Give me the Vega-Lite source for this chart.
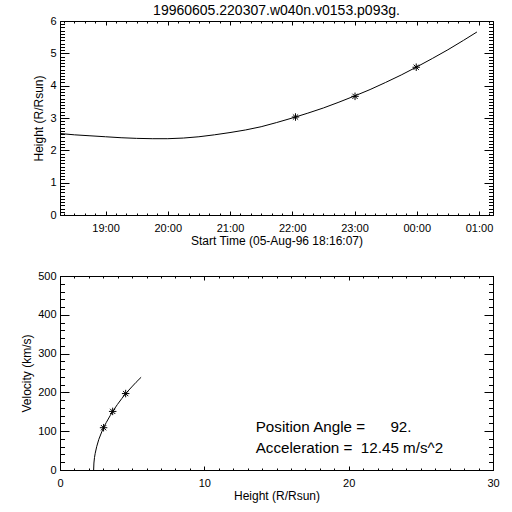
{
  "$schema": "https://vega.github.io/schema/vega-lite/v6.json",
  "background": "white",
  "padding": {"left": 20, "top": 4, "right": 5, "bottom": 5},
  "spacing": 24,
  "config": {
    "font": "Liberation Sans",
    "view": {"stroke": null},
    "axis": {
      "grid": false,
      "labelFontSize": 11,
      "titleFontSize": 12,
      "titleFontWeight": "normal",
      "labelColor": "black",
      "titleColor": "black",
      "domainColor": "black",
      "tickColor": "black",
      "labelFlush": false
    }
  },
  "vconcat": [
    {
      "width": 433,
      "height": 194,
      "title": {"text": "19960605.220307.w040n.v0153.p093g.", "fontSize": 14, "fontWeight": "normal", "color": "black", "offset": -3, "anchor": "middle"},
      "resolve": {"axis": {"x": "independent", "y": "independent"}},
      "data": {"values": [
        {"time": "1996-08-05T18:16:07Z", "height": 2.52},
        {"time": "1996-08-05T18:30:00Z", "height": 2.48},
        {"time": "1996-08-05T18:45:00Z", "height": 2.45},
        {"time": "1996-08-05T19:00:00Z", "height": 2.42},
        {"time": "1996-08-05T19:15:00Z", "height": 2.39},
        {"time": "1996-08-05T19:30:00Z", "height": 2.37},
        {"time": "1996-08-05T19:45:00Z", "height": 2.36},
        {"time": "1996-08-05T20:00:00Z", "height": 2.36},
        {"time": "1996-08-05T20:15:00Z", "height": 2.38},
        {"time": "1996-08-05T20:30:00Z", "height": 2.42},
        {"time": "1996-08-05T20:45:00Z", "height": 2.48},
        {"time": "1996-08-05T21:00:00Z", "height": 2.55},
        {"time": "1996-08-05T21:15:00Z", "height": 2.63},
        {"time": "1996-08-05T21:30:00Z", "height": 2.73},
        {"time": "1996-08-05T21:45:00Z", "height": 2.86},
        {"time": "1996-08-05T22:00:00Z", "height": 3.0},
        {"time": "1996-08-05T22:15:00Z", "height": 3.15},
        {"time": "1996-08-05T22:30:00Z", "height": 3.31},
        {"time": "1996-08-05T22:45:00Z", "height": 3.49},
        {"time": "1996-08-05T23:00:00Z", "height": 3.68},
        {"time": "1996-08-05T23:15:00Z", "height": 3.88},
        {"time": "1996-08-05T23:30:00Z", "height": 4.1},
        {"time": "1996-08-05T23:45:00Z", "height": 4.33},
        {"time": "1996-08-06T00:00:00Z", "height": 4.58},
        {"time": "1996-08-06T00:15:00Z", "height": 4.84},
        {"time": "1996-08-06T00:30:00Z", "height": 5.11},
        {"time": "1996-08-06T00:45:00Z", "height": 5.4},
        {"time": "1996-08-06T00:58:00Z", "height": 5.66}
      ]},
      "layer": [
        {
          "mark": {"type": "line", "color": "black", "strokeWidth": 1},
          "encoding": {
            "x": {"field": "time", "type": "temporal",
              "scale": {"type": "utc", "domain": [
                {"year": 1996, "month": 8, "date": 5, "hours": 18, "minutes": 16, "seconds": 7, "utc": true},
                {"year": 1996, "month": 8, "date": 6, "hours": 1, "minutes": 13, "seconds": 30, "utc": true}]},
              "axis": {"orient": "bottom", "format": "%H:%M", "values": [839271600000, 839275200000, 839278800000, 839282400000, 839286000000, 839289600000, 839293200000], "tickSize": -4, "labelPadding": 11, "title": "Start Time (05-Aug-96 18:16:07)", "titlePadding": 2}},
            "y": {"field": "height", "type": "quantitative", "scale": {"domain": [0, 6]},
              "axis": {"orient": "left", "values": [0, 1, 2, 3, 4, 5, 6], "tickSize": -9, "labelPadding": 13, "title": "Height (R/Rsun)", "titlePadding": 4}}
          }
        },
        {
          "mark": {"type": "line", "opacity": 0},
          "encoding": {
            "x": {"field": "time", "type": "temporal", "axis": {"orient": "bottom", "values": [839269200000, 839269800000, 839270400000, 839271000000, 839271600000, 839272200000, 839272800000, 839273400000, 839274000000, 839274600000, 839275200000, 839275800000, 839276400000, 839277000000, 839277600000, 839278200000, 839278800000, 839279400000, 839280000000, 839280600000, 839281200000, 839281800000, 839282400000, 839283000000, 839283600000, 839284200000, 839284800000, 839285400000, 839286000000, 839286600000, 839287200000, 839287800000, 839288400000, 839289000000, 839289600000, 839290200000, 839290800000, 839291400000, 839292000000, 839292600000, 839293200000, 839293800000], "tickSize": -2, "labels": false, "domain": false, "title": null}},
            "y": {"field": "height", "type": "quantitative", "axis": {"orient": "left", "tickCount": 60, "tickSize": -4.5, "labels": false, "domain": false, "title": null}}
          }
        },
        {
          "mark": {"type": "line", "opacity": 0},
          "encoding": {
            "x": {"field": "time", "type": "temporal", "axis": {"orient": "top", "values": [839269200000, 839269800000, 839270400000, 839271000000, 839271600000, 839272200000, 839272800000, 839273400000, 839274000000, 839274600000, 839275200000, 839275800000, 839276400000, 839277000000, 839277600000, 839278200000, 839278800000, 839279400000, 839280000000, 839280600000, 839281200000, 839281800000, 839282400000, 839283000000, 839283600000, 839284200000, 839284800000, 839285400000, 839286000000, 839286600000, 839287200000, 839287800000, 839288400000, 839289000000, 839289600000, 839290200000, 839290800000, 839291400000, 839292000000, 839292600000, 839293200000, 839293800000], "tickSize": -2, "labels": false, "domain": false, "title": null}},
            "y": {"field": "height", "type": "quantitative", "axis": {"orient": "right", "tickCount": 60, "tickSize": -4.5, "labels": false, "domain": false, "title": null}}
          }
        },
        {
          "data": {"values": [
            {"time": "1996-08-05T22:03:07Z", "height": 3.03},
            {"time": "1996-08-05T23:00:30Z", "height": 3.67},
            {"time": "1996-08-05T23:59:30Z", "height": 4.57}
          ]},
          "mark": {"type": "point", "shape": "M0,-1L0,1M-1,0L1,0M-0.7,-0.7L0.7,0.7M-0.7,0.7L0.7,-0.7", "filled": false, "color": "black", "strokeWidth": 1, "size": 56, "opacity": 1},
          "encoding": {
            "x": {"field": "time", "type": "temporal", "axis": {"orient": "top", "values": [839271600000, 839275200000, 839278800000, 839282400000, 839286000000, 839289600000, 839293200000], "tickSize": -4, "labels": false, "title": null}},
            "y": {"field": "height", "type": "quantitative", "axis": {"orient": "right", "values": [0, 1, 2, 3, 4, 5, 6], "tickSize": -9, "labels": false, "title": null}}
          }
        }
      ]
    },
    {
      "width": 433,
      "height": 194,
      "resolve": {"axis": {"x": "independent", "y": "independent"}},
      "data": {"values": [
        {"h": 2.33, "v": 0},
        {"h": 2.35, "v": 18},
        {"h": 2.39, "v": 32},
        {"h": 2.44, "v": 43},
        {"h": 2.54, "v": 60},
        {"h": 2.69, "v": 79},
        {"h": 2.89, "v": 98},
        {"h": 3.02, "v": 109},
        {"h": 3.2, "v": 122},
        {"h": 3.49, "v": 141},
        {"h": 3.65, "v": 151},
        {"h": 3.98, "v": 169},
        {"h": 4.28, "v": 184},
        {"h": 4.55, "v": 197},
        {"h": 4.97, "v": 214},
        {"h": 5.27, "v": 226},
        {"h": 5.62, "v": 239}
      ]},
      "layer": [
        {
          "mark": {"type": "line", "color": "black", "strokeWidth": 1},
          "encoding": {
            "x": {"field": "h", "type": "quantitative", "scale": {"domain": [0, 30]},
              "axis": {"orient": "bottom", "values": [0, 10, 20, 30], "tickSize": -4, "labelPadding": 11, "title": "Height (R/Rsun)", "titlePadding": 2}},
            "y": {"field": "v", "type": "quantitative", "scale": {"domain": [0, 500]},
              "axis": {"orient": "left", "values": [0, 100, 200, 300, 400, 500], "tickSize": -9, "labelPadding": 13, "title": "Velocity (km/s)", "titlePadding": 4}}
          }
        },
        {
          "mark": {"type": "line", "opacity": 0},
          "encoding": {
            "x": {"field": "h", "type": "quantitative", "axis": {"orient": "bottom", "tickCount": 30, "tickSize": -2, "labels": false, "domain": false, "title": null}},
            "y": {"field": "v", "type": "quantitative", "axis": {"orient": "left", "tickCount": 25, "tickSize": -4.5, "labels": false, "domain": false, "title": null}}
          }
        },
        {
          "mark": {"type": "line", "opacity": 0},
          "encoding": {
            "x": {"field": "h", "type": "quantitative", "axis": {"orient": "top", "tickCount": 30, "tickSize": -2, "labels": false, "domain": false, "title": null}},
            "y": {"field": "v", "type": "quantitative", "axis": {"orient": "right", "tickCount": 25, "tickSize": -4.5, "labels": false, "domain": false, "title": null}}
          }
        },
        {
          "data": {"values": [
            {"h": 3.02, "v": 109},
            {"h": 3.65, "v": 151},
            {"h": 4.55, "v": 197}
          ]},
          "mark": {"type": "point", "shape": "M0,-1L0,1M-1,0L1,0M-0.7,-0.7L0.7,0.7M-0.7,0.7L0.7,-0.7", "filled": false, "color": "black", "strokeWidth": 1, "size": 56, "opacity": 1},
          "encoding": {
            "x": {"field": "h", "type": "quantitative", "axis": {"orient": "top", "values": [0, 10, 20, 30], "tickSize": -4, "labels": false, "title": null}},
            "y": {"field": "v", "type": "quantitative", "axis": {"orient": "right", "values": [0, 100, 200, 300, 400, 500], "tickSize": -9, "labels": false, "title": null}}
          }
        },
        {
          "data": {"values": [
            {"h": 13.56, "v": 112, "label": "Position Angle =\u00a0\u00a0\u00a0\u00a0\u00a0\u00a092."},
            {"h": 13.56, "v": 57, "label": "Acceleration =\u00a0\u00a012.45 m/s^2"}
          ]},
          "mark": {"type": "text", "align": "left", "baseline": "middle", "fontSize": 15.2, "color": "black"},
          "encoding": {
            "x": {"field": "h", "type": "quantitative", "axis": null},
            "y": {"field": "v", "type": "quantitative", "axis": null},
            "text": {"field": "label"}
          }
        }
      ]
    }
  ]
}
